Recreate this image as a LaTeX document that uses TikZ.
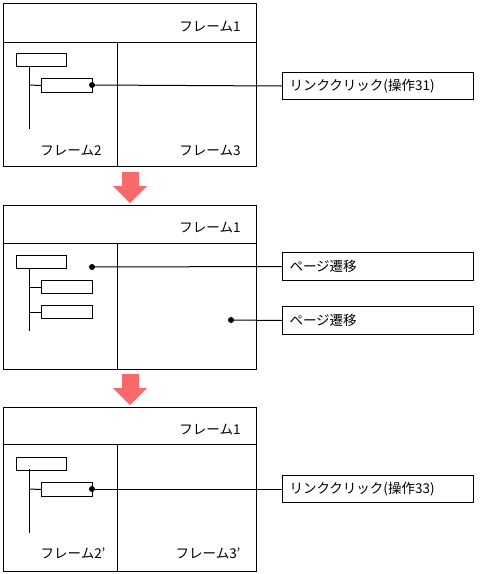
\documentclass[tikz,border=0pt]{standalone}
\usepackage{fontspec}
\setmainfont{Noto Sans CJK JP}
\definecolor{arrowred}{RGB}{248,106,106}
\begin{document}
\begin{tikzpicture}[x=1pt,y=-1pt,line width=1pt,
  frame/.style={draw,inner sep=0pt,anchor=north west},
  tbox/.style={draw,inner sep=0pt,anchor=north west,minimum width=50pt,minimum height=13pt},
  lbl/.style={draw,anchor=north west,minimum height=27pt,text width=177pt,inner xsep=7pt,inner ysep=0pt,align=left,font=\fontsize{13.5pt}{15pt}\selectfont},
  ftxt/.style={anchor=east,inner sep=0pt,font=\fontsize{13.5pt}{15pt}\selectfont},
  dot/.style={circle,fill=black,inner sep=0pt,minimum size=6pt},
  bigarrow/.style={fill=arrowred,draw=none}]
\useasboundingbox (0,0) rectangle (481,574);

% ---------- panel 1 ----------
\node[frame,minimum width=253pt,minimum height=163pt] (P1) at (3,3) {};
\draw (3,42) -- (256,42);
\draw (117,42) -- (117,166);
\node[ftxt] (f11) at (241,27) {フレーム1};
\node[ftxt] (f12) at (102,151) {フレーム2};
\node[ftxt] (f13) at (241,151) {フレーム3};
\node[tbox] (a1) at (16,53) {};
\node[tbox,minimum width=51pt,minimum height=14pt] (a2) at (41,78) {};
\draw (29,66) -- (29,129);
\draw (29,85) -- (a2.west);
\node[dot] (d1) at (92,85) {};
\node[lbl] (L1) at (282,72) {リンククリック(操作31)};
\draw (d1.center) -- (L1.west);

% arrow 1
\fill[bigarrow] (122,172) -- (139,172) -- (139,186) -- (147,186) -- (130,203) -- (113,186) -- (122,186) -- cycle;

% ---------- panel 2 ----------
\node[frame,minimum width=253pt,minimum height=164pt] (P2) at (3,205) {};
\draw (3,243) -- (256,243);
\draw (117,243) -- (117,369);
\node[ftxt] (f21) at (241,228) {フレーム1};
\node[tbox] (b1) at (16,255) {};
\node[tbox,minimum width=51pt] (b2) at (41,280) {};
\node[tbox,minimum width=51pt] (b3) at (41,305) {};
\draw (29,268) -- (29,331);
\draw (29,287) -- (b2.west);
\draw (29,312) -- (b3.west);
\node[dot] (d2) at (92,267) {};
\node[dot] (d3) at (231,320) {};
\node[lbl,minimum height=28pt] (L2) at (282,252) {ページ遷移};
\node[lbl,minimum height=28pt] (L3) at (282,306) {ページ遷移};
\draw (d2.center) -- (L2.west);
\draw (d3.center) -- (L3.west);

% arrow 2
\fill[bigarrow] (122,374) -- (139,374) -- (139,388) -- (147,388) -- (130,405) -- (113,388) -- (122,388) -- cycle;

% ---------- panel 3 ----------
\node[frame,minimum width=253pt,minimum height=164pt] (P3) at (3,407) {};
\draw (3,444) -- (256,444);
\draw (117,444) -- (117,571);
\node[ftxt] (f31) at (241,430) {フレーム1};
\node[ftxt] (f32) at (106,553) {フレーム2’};
\node[ftxt] (f33) at (241,553) {フレーム3’};
\node[tbox] (c1) at (16,457) {};
\node[tbox,minimum width=51pt,minimum height=14pt] (c2) at (41,482) {};
\draw (29,469) -- (29,533);
\draw (29,489) -- (c2.west);
\node[dot] (d4) at (92,489) {};
\node[lbl] (L4) at (282,475) {リンククリック(操作33)};
\draw (d4.center) -- (L4.west);
\end{tikzpicture}
\end{document}
